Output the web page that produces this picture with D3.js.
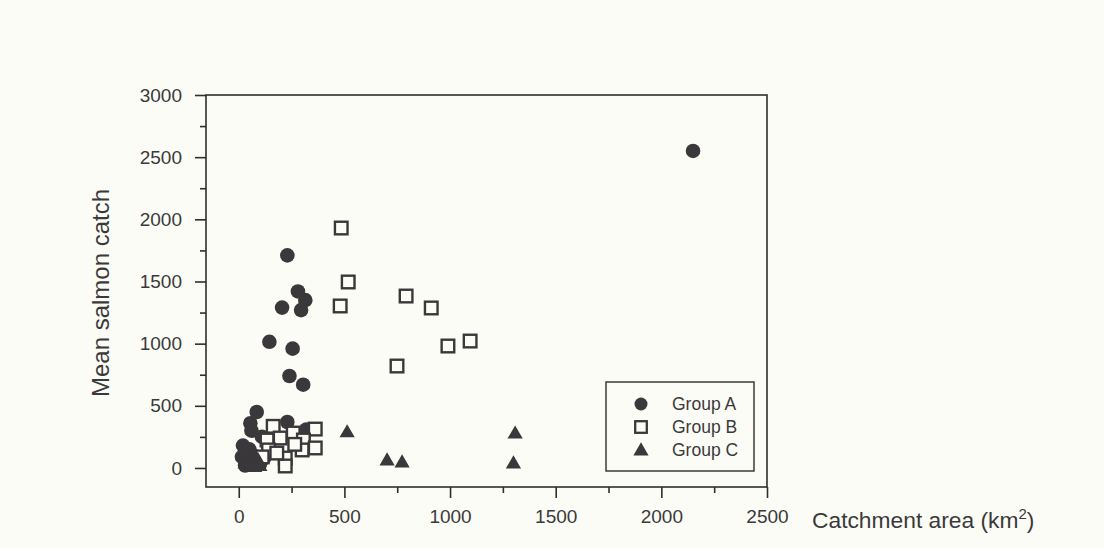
<!DOCTYPE html>
<html>
<head>
<meta charset="utf-8">
<script src="https://cdn.jsdelivr.net/npm/d3@7/dist/d3.min.js"></script>
<style>
  html, body { margin: 0; padding: 0; background: #fcfcf7; }
  svg { display: block; }
  text { font-family: "Liberation Sans", Arial, Helvetica, sans-serif; fill: #3a3a3a; }
</style>
</head>
<body>
<svg id="chart" width="1104" height="548"></svg>
<script>
// ---- Data (catchment area km², mean salmon catch) ----
const groupAArea  = [2150, 230, 280, 315, 205, 295, 145, 255, 240, 305, 85, 55, 230, 320, 20, 60, 70, 40, 100, 50, 110, 30, 15, 80, 120];
const groupACatch = [2550, 1710, 1420, 1350, 1290, 1270, 1015, 960, 740, 670, 450, 360, 370, 310, 180, 300, 100, 60, 30, 150, 250, 20, 90, 60, 80];

const groupBArea  = [485, 518, 480, 792, 911, 990, 1095, 749, 163, 258, 196, 362, 306, 300, 362, 134, 141, 220, 220, 111, 180, 265];
const groupBCatch = [1930, 1496, 1303, 1383, 1287, 981, 1021, 820, 335, 281, 241, 313, 225, 145, 161, 225, 145, 80, 16, 89, 120, 190];

const groupCArea  = [513, 702, 773, 1308, 1300, 30, 60, 90, 50, 100, 75];
const groupCCatch = [290, 64, 48, 280, 40, 40, 30, 70, 90, 20, 10];

const xMajorTicks = [0, 500, 1000, 1500, 2000, 2500];
const xMinorTicks = [250, 750, 1250, 1750, 2250];
const yMajorTicks = [0, 500, 1000, 1500, 2000, 2500, 3000];
const yMinorTicks = [250, 750, 1250, 1750, 2250, 2750];
const legendLabels = ["Group A", "Group B", "Group C"];

const xLabel = "Catchment area (km";
const yLabel = "Mean salmon catch";

// ---- Layout ----
const svg = d3.select("#chart");
const L = 206, R = 767, T = 95, B = 487;
const markColor = "#3a383a";
const axisColor = "#2e2e2e";

const x = d3.scaleLinear().domain([-155, 2500]).range([L, R]);
const y = d3.scaleLinear().domain([-153, 3000]).range([B, T]);

// frame
svg.append("rect")
  .attr("x", L).attr("y", T).attr("width", R - L).attr("height", B - T)
  .attr("fill", "none").attr("stroke", axisColor).attr("stroke-width", 1.6);

function styleAxis(g) {
  g.select(".domain").remove();
  g.selectAll(".tick line").attr("stroke", axisColor).attr("stroke-width", 1.6);
  g.selectAll(".tick text").style("font-size", "19px").attr("fill", "#3a3a3a");
}

// y axis
const gy = svg.append("g").attr("transform", `translate(${L},0)`)
  .call(d3.axisLeft(y).tickValues(yMajorTicks).tickSize(11).tickPadding(13).tickFormat(d3.format("d")));
styleAxis(gy);
const gym = svg.append("g").attr("transform", `translate(${L},0)`)
  .call(d3.axisLeft(y).tickValues(yMinorTicks).tickSize(6).tickFormat(""));
styleAxis(gym);

// x axis
const gx = svg.append("g").attr("transform", `translate(0,${B})`)
  .call(d3.axisBottom(x).tickValues(xMajorTicks).tickSize(11).tickPadding(12).tickFormat(d3.format("d")));
styleAxis(gx);
const gxm = svg.append("g").attr("transform", `translate(0,${B})`)
  .call(d3.axisBottom(x).tickValues(xMinorTicks).tickSize(6).tickFormat(""));
styleAxis(gxm);

// axis labels
svg.append("text")
  .attr("transform", `translate(109,${(T + B) / 2 + 2}) rotate(-90)`)
  .attr("text-anchor", "middle")
  .style("font-size", "24px")
  .text(yLabel);

const xl = svg.append("text")
  .attr("x", 812).attr("y", 528)
  .style("font-size", "22.8px");
xl.append("tspan").text(xLabel);
xl.append("tspan").attr("dy", -9).style("font-size", "15px").text("2");
xl.append("tspan").attr("dy", 9).text(")");

// marker shapes
const triSym = d3.symbol().type(d3.symbolTriangle).size(100);

function drawCircles(g, xs, ys) {
  g.selectAll("circle.a").data(xs.map((d, i) => [d, ys[i]])).join("circle")
    .attr("class", "a")
    .attr("cx", d => x(d[0])).attr("cy", d => y(d[1])).attr("r", 7.3)
    .attr("fill", markColor);
}
function drawSquares(g, xs, ys) {
  g.selectAll("rect.b").data(xs.map((d, i) => [d, ys[i]])).join("rect")
    .attr("class", "b")
    .attr("x", d => x(d[0]) - 6.3).attr("y", d => y(d[1]) - 6.3)
    .attr("width", 12.6).attr("height", 12.6)
    .attr("fill", "#fcfcf7").attr("stroke", markColor).attr("stroke-width", 2.4);
}
function drawTriangles(g, xs, ys) {
  g.selectAll("path.c").data(xs.map((d, i) => [d, ys[i]])).join("path")
    .attr("class", "c")
    .attr("d", triSym)
    .attr("transform", d => `translate(${x(d[0])},${y(d[1]) + 1})`)
    .attr("fill", markColor);
}

const plot = svg.append("g");
drawCircles(plot.append("g"), groupAArea, groupACatch);
drawSquares(plot.append("g"), groupBArea, groupBCatch);
drawTriangles(plot.append("g"), groupCArea, groupCCatch);

// legend
const lg = svg.append("g");
lg.append("rect").attr("x", 606).attr("y", 382).attr("width", 148).attr("height", 89)
  .attr("fill", "#fcfcf7").attr("stroke", axisColor).attr("stroke-width", 1.4);
const rows = [404, 427, 450];
lg.append("circle").attr("cx", 641).attr("cy", rows[0]).attr("r", 6.5).attr("fill", markColor);
lg.append("rect").attr("x", 641 - 5.8).attr("y", rows[1] - 5.8).attr("width", 11.6).attr("height", 11.6)
  .attr("fill", "none").attr("stroke", markColor).attr("stroke-width", 2.3);
lg.append("path").attr("d", triSym).attr("transform", `translate(641,${rows[2] + 1})`).attr("fill", markColor);
legendLabels.forEach((t, i) => {
  lg.append("text").attr("x", 672).attr("y", rows[i]).attr("dy", "0.35em")
    .style("font-size", "17.5px").text(t);
});
</script>
</body>
</html>
